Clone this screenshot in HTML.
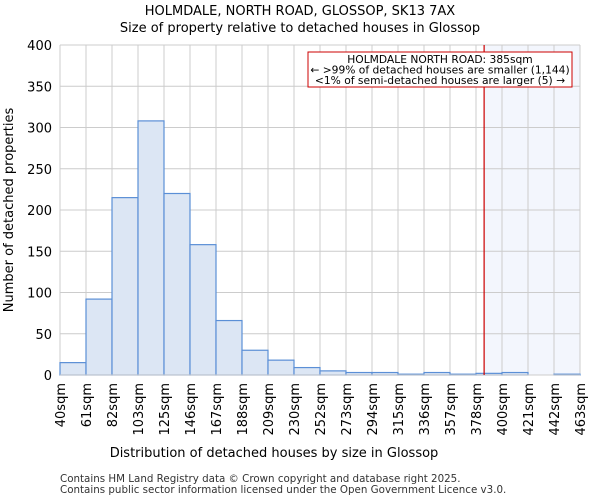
<!DOCTYPE html>
<html><head><meta charset="utf-8"><style>
body{margin:0;background:#fff;font-family:"DejaVu Sans","Liberation Sans",sans-serif;}
</style></head><body>
<svg width="600" height="500" viewBox="0 0 600 500" xmlns="http://www.w3.org/2000/svg" font-family="DejaVu Sans, Liberation Sans, sans-serif">
<text x="300" y="15" text-anchor="middle" font-size="13">HOLMDALE, NORTH ROAD, GLOSSOP, SK13 7AX</text>
<text x="300" y="32" text-anchor="middle" font-size="13">Size of property relative to detached houses in Glossop</text>
<g id="plot"></g>
<text x="274" y="457" text-anchor="middle" font-size="13">Distribution of detached houses by size in Glossop</text>
<text transform="translate(13,210) rotate(-90)" text-anchor="middle" font-size="13">Number of detached properties</text>
<text x="60" y="482" font-size="10.3" fill="#333">Contains HM Land Registry data © Crown copyright and database right 2025.</text>
<text x="60" y="493" font-size="10.3" fill="#333">Contains public sector information licensed under the Open Government Licence v3.0.</text>
</svg>
<script>
const categories=["40sqm","61sqm","82sqm","103sqm","125sqm","146sqm","167sqm","188sqm","209sqm","230sqm","252sqm","273sqm","294sqm","315sqm","336sqm","357sqm","378sqm","400sqm","421sqm","442sqm","463sqm"];
const counts=[15,92,215,308,220,158,66,30,18,9,5,3,3,1,3,1,2,3,0,1];
const yTicks=[0,50,100,150,200,250,300,350,400];
const binStart=40, binWidth=21.15, markerValue=385;
const X0=60,X1=580,Y0=375,Y1=45,YMAX=400;
const nb=counts.length;
const xs=v=>X0+(v-binStart)/(binWidth*nb)*(X1-X0);
const xi=i=>X0+i*(X1-X0)/nb;
const y=v=>Y0-(v/YMAX)*(Y0-Y1);
const NS="http://www.w3.org/2000/svg";
const g=document.getElementById('plot');
function mk(t,a){const e=document.createElementNS(NS,t);for(const k in a)e.setAttribute(k,a[k]);g.appendChild(e);return e;}
const mx=xs(markerValue);
let r=mk('rect',{x:mx,y:Y1,width:X1-mx,height:Y0-Y1,fill:'#f3f6fd'});


yTicks.forEach(t=>{
 let l=mk('line',{x1:X0,x2:X1,y1:y(t),y2:y(t),stroke:'#ccc'});
 
 
 let tx=mk('text',{x:X0-8,y:y(t)+5,'text-anchor':'end','font-size':13});
 tx.textContent=t;
 
 
});
for(let i=0;i<=nb;i++){
 let l=mk('line',{x1:xi(i),x2:xi(i),y1:Y1,y2:Y0,stroke:'#ccc'});
 
 
 let tx=mk('text',{transform:`translate(${xi(i)+5},${Y0+8}) rotate(-90)`,'text-anchor':'end','font-size':13});
 tx.textContent=categories[i];
 
 
}
counts.forEach((c,i)=>{
 if(c<=0)return;
 let b=mk('rect',{x:xi(i),y:y(c),width:xi(i+1)-xi(i),height:Y0-y(c),fill:'#dce6f4',stroke:'#5b8fd6','stroke-width':1.2});
 
 
});
let ax=mk('line',{x1:X0,x2:X1,y1:Y0,y2:Y0,stroke:'#ccc'});


let ml=mk('line',{x1:mx,x2:mx,y1:Y1,y2:Y0,stroke:'#cc0000','stroke-width':1.2});


let box=mk('rect',{x:308,y:52,width:264,height:35,fill:'#fff',stroke:'#cc0000'});


["HOLMDALE NORTH ROAD: 385sqm","← >99% of detached houses are smaller (1,144)","<1% of semi-detached houses are larger (5) →"].forEach((s,k)=>{
 let t=mk('text',{x:440,y:63+k*10.5,'text-anchor':'middle','font-size':10.7});
 t.textContent=s;
 
 
});
</script>
</body></html>
